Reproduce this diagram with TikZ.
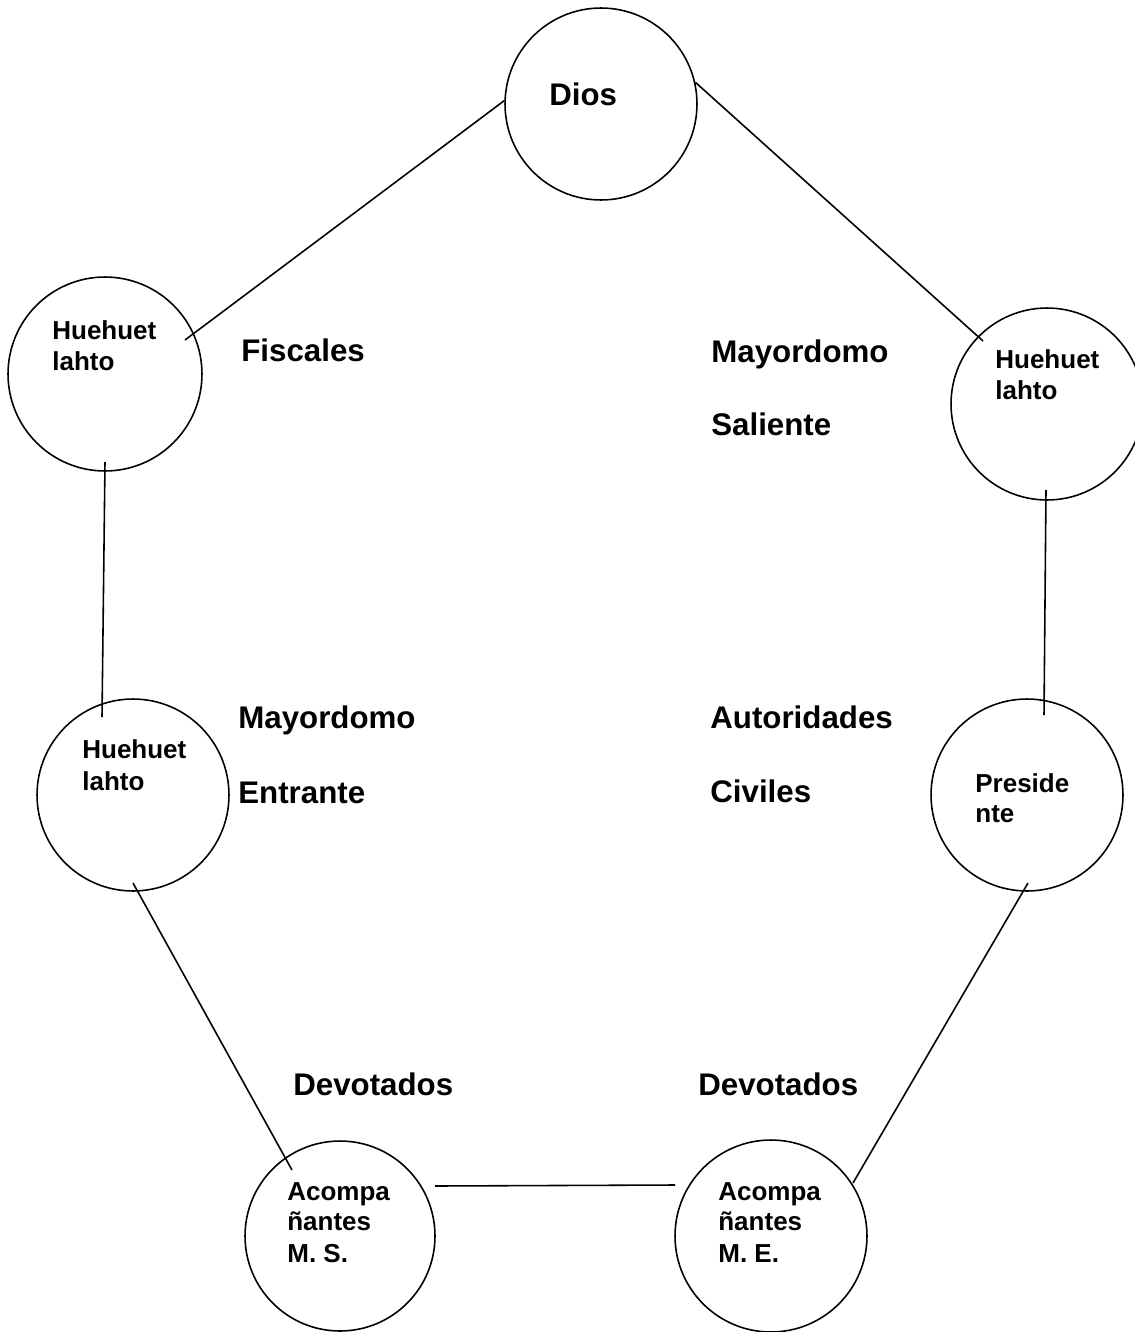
\documentclass[tikz,border=0pt]{standalone}
\usepackage{fontspec}
\setmainfont{Liberation Sans}
\usetikzlibrary{calc}
\begin{document}
\begin{tikzpicture}[x=0.02cm,y=-0.02cm,
  circ/.style={circle, draw, line width=0.9pt, minimum size=3.84cm, inner sep=0pt},
  conn/.style={line width=0.9pt},
  biglbl/.style={anchor=base west, inner sep=0pt, font=\bfseries\fontsize{17.8}{20}\selectfont},
  inlbl/.style={anchor=base west, inner sep=0pt, font=\bfseries\fontsize{14.8}{17}\selectfont}]
  \useasboundingbox (0,0) rectangle (1135,1332);

  % circles
  \node[circ] (dios) at (601,104) {};
  \node[circ, minimum size=3.88cm] (hl1) at (105,374) {};
  \node[circ] (hl2) at (1047,404) {};
  \node[circ] (hl3) at (133,795) {};
  \node[circ] (pres) at (1027,795) {};
  \node[circ, minimum size=3.80cm] (ms) at (340,1236) {};
  \node[circ] (me) at (771,1236) {};

  % texts inside the circles
  \node[biglbl] (dios-t) at (549,105) {Dios};
  \node[inlbl] (hl1-a) at (52,339) {Huehuet};
  \node[inlbl] (hl1-b) at (52,370) {lahto};
  \node[inlbl] (hl2-a) at (995,368) {Huehuet};
  \node[inlbl] (hl2-b) at (995,399) {lahto};
  \node[inlbl] (hl3-a) at (82,758) {Huehuet};
  \node[inlbl] (hl3-b) at (82,790) {lahto};
  \node[inlbl] (pres-a) at (975,792) {Preside};
  \node[inlbl] (pres-b) at (975,822) {nte};
  \node[inlbl] (ms-a) at (287,1200) {Acompa};
  \node[inlbl] (ms-b) at (287,1230) {ñantes};
  \node[inlbl] (ms-c) at (287,1262) {M. S.};
  \node[inlbl] (me-a) at (718,1200) {Acompa};
  \node[inlbl] (me-b) at (718,1230) {ñantes};
  \node[inlbl] (me-c) at (718,1262) {M. E.};

  % group labels
  \node[biglbl] (fis) at (241,361) {Fiscales};
  \node[biglbl] (mys-a) at (711,362) {Mayordomo};
  \node[biglbl] (mys-b) at (711,435) {Saliente};
  \node[biglbl] (mye-a) at (238,728) {Mayordomo};
  \node[biglbl] (mye-b) at (238,803) {Entrante};
  \node[biglbl] (aut-a) at (710,728) {Autoridades};
  \node[biglbl] (aut-b) at (710,802) {Civiles};
  \node[biglbl] (dev-a) at (293,1095) {Devotados};
  \node[biglbl] (dev-b) at (698,1095) {Devotados};

  % connectors
  \draw[conn] (dios.178) -- ($(hl1.center)+(80,-34)$);
  \draw[conn] (dios.13) -- ($(hl2.center)+(-64,-63)$);
  \draw[conn] ($(hl1.center)+(0,88)$) -- ($(hl3.center)+(-31,-78)$);
  \draw[conn] ($(hl2.center)+(-1,86)$) -- ($(pres.center)+(17,-80)$);
  \draw[conn] ($(hl3.center)+(0,88)$) -- ($(ms.center)+(-48,-66)$);
  \draw[conn] ($(pres.center)+(1,88)$) -- ($(me.center)+(82,-53)$);
  \draw[conn] ($(ms.center)+(95,-50)$) -- ($(me.center)+(-96,-51)$);
\end{tikzpicture}
\end{document}
